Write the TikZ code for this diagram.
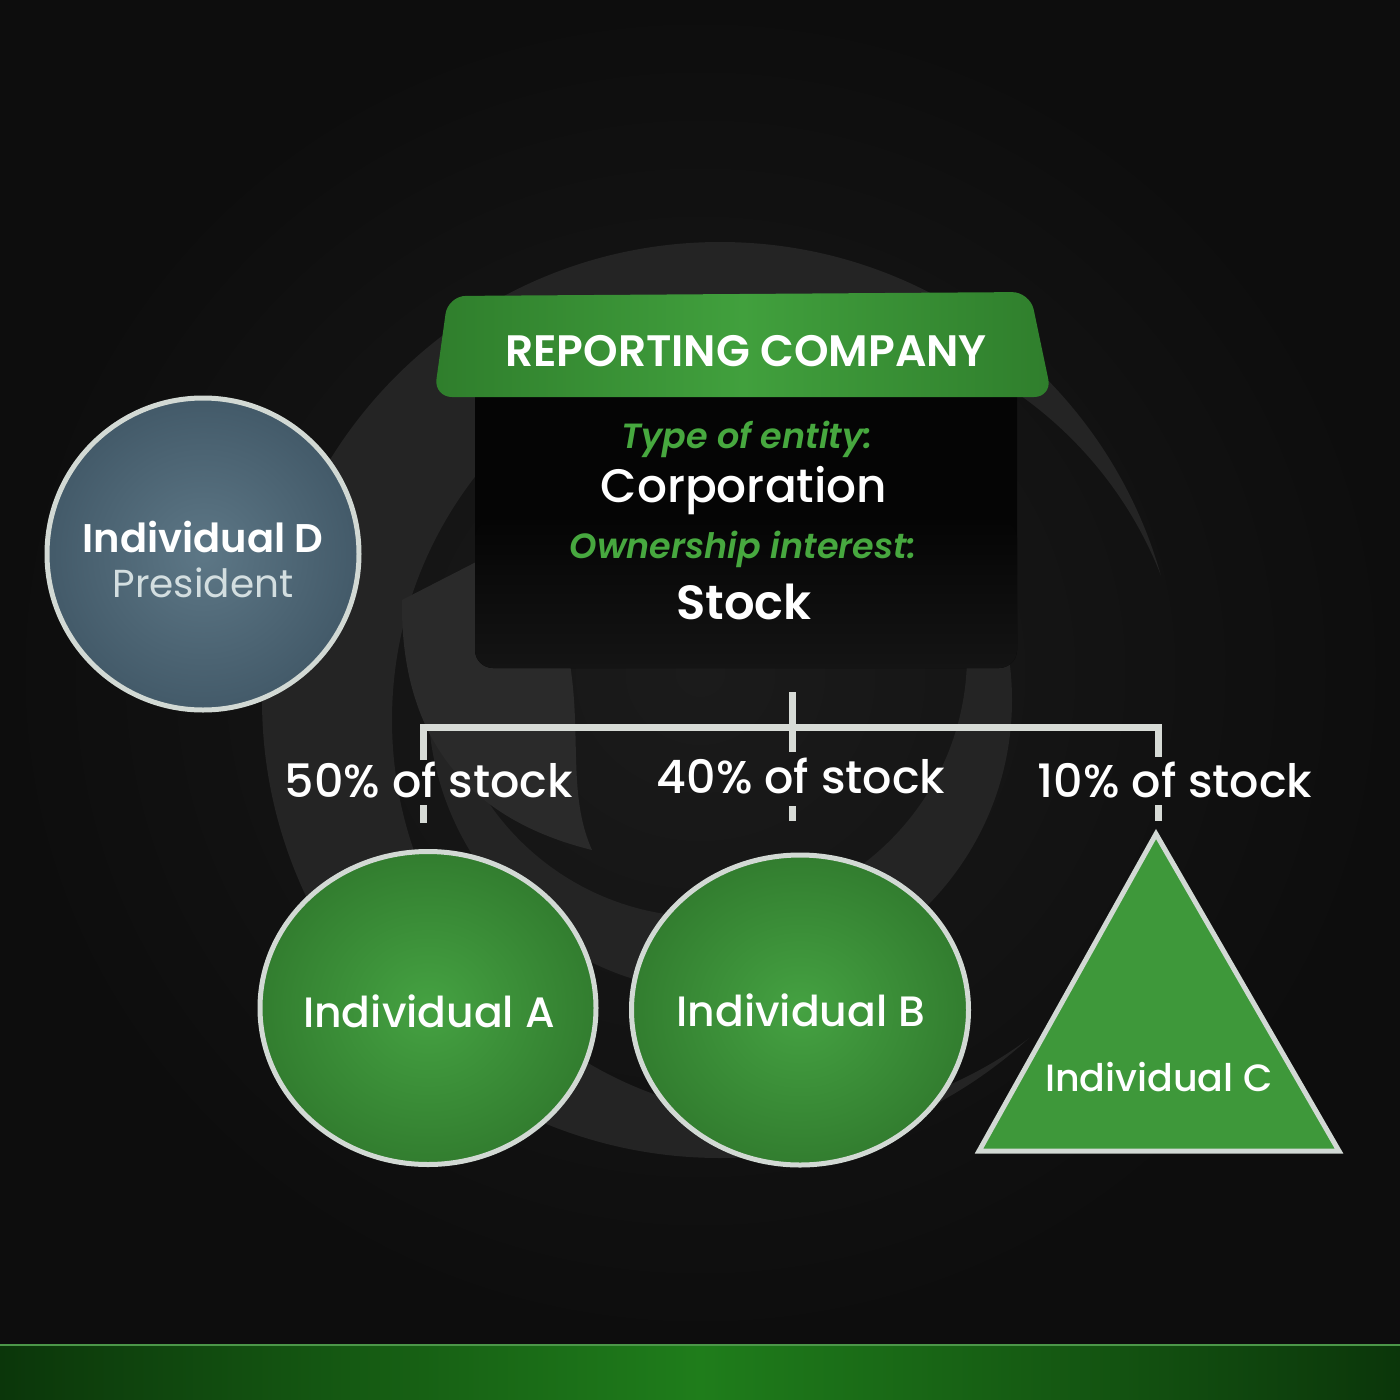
\documentclass[tikz,border=0pt]{standalone}
\usepackage{fontspec}
\setmainfont{Poppins}
\newfontface\pmed{Poppins Medium}
\newfontface\psemi{Poppins SemiBold}
\newfontface\psemiit{Poppins SemiBold Italic}
\usetikzlibrary{shapes.geometric,calc}
\definecolor{bgmid}{HTML}{1B1B1B}
\definecolor{bgedge}{HTML}{0D0D0D}
\definecolor{wm}{HTML}{242424}
\definecolor{wmlight}{HTML}{2A2A2A}
\definecolor{gtab}{HTML}{41A03D}
\definecolor{gtabdark}{HTML}{2F7E2C}
\definecolor{gtext}{HTML}{47A83F}
\definecolor{boxtop}{HTML}{050505}
\definecolor{boxbot}{HTML}{141414}
\definecolor{linecol}{HTML}{D7DBD6}
\definecolor{rimcol}{HTML}{D2D9D4}
\definecolor{dmid}{HTML}{5D7786}
\definecolor{dedge}{HTML}{435A69}
\definecolor{gmid}{HTML}{45A242}
\definecolor{gedge}{HTML}{327D2F}
\definecolor{barmid}{HTML}{1F7D1B}
\definecolor{bardark}{HTML}{0B360A}
\definecolor{presc}{HTML}{D3DEE0}
\tikzset{
  conn/.style={linecol, line width=7pt, line join=miter},
  rim/.style={draw=rimcol, line width=5pt},
  greencirc/.style={ellipse, rim, inner color=gmid, outer color=gedge},
  wtext/.style={text=white, inner sep=0pt},
  gitext/.style={text=gtext, inner sep=0pt, font=\psemiit\fontsize{35}{40}\selectfont},
  stocklbl/.style={text=white, inner sep=0pt, font=\pmed\fontsize{46}{50}\selectfont},
  indlbl/.style={text=white, inner sep=0pt, font=\pmed\fontsize{42.5}{48}\selectfont},
}
\begin{document}
\begin{tikzpicture}[x=1pt,y=-1pt]
\useasboundingbox (0,0) rectangle (1400,1400);
% background
\shade[inner color=bgmid, outer color=bgedge] (0,0) rectangle (1400,1345);
% watermark
\begin{scope}
  \clip (720,700) circle (458);
  \fill[wm, even odd rule] (0,0) rectangle (1400,1400) (790,720) circle (398);
\end{scope}
\begin{scope}
  \clip (720,700) circle (292);
  \fill[wm, even odd rule] (0,0) rectangle (1400,1400) (705,655) circle (262);
\end{scope}
\fill[wmlight] (402,600) .. controls (400,740) and (470,820) .. (592,850)
  .. controls (565,790) and (585,720) .. (565,640) -- (480,560) -- cycle;
% bottom bar
\shade[left color=bardark, right color=bardark, middle color=barmid] (0,1345) rectangle (1400,1400);
\fill[barmid!80!white] (0,1344) rectangle (1400,1346);
% company box
\node (box) [fill=boxtop, rounded corners=18pt, minimum width=542pt, minimum height=290pt, inner sep=0pt] at (746,523) {};
\shade[top color=boxtop, bottom color=boxbot, rounded corners=18pt] (475,520) rectangle (1017,668);
\shade[left color=gtabdark, right color=gtabdark, middle color=gtab, rounded corners=18pt]
  (448,296) -- (1030,292) -- (1052,397) -- (434,397) -- cycle;
\node (tab) [wtext, font=\psemi\fontsize{44}{48}\selectfont] at (746,351) {REPORTING COMPANY};
\node (typ) [gitext] at (747,439) {Type of entity:};
\node (corp) [wtext, font=\pmed\fontsize{47}{52}\selectfont] at (744,491) {Corporation};
\node (own) [gitext] at (743,549) {Ownership interest:};
\node (stk) [wtext, font=\psemi\fontsize{48}{54}\selectfont] at (744,602) {Stock};
% Individual D
\node (D) [circle, rim, minimum size=312pt, inner color=dmid, outer color=dedge, inner sep=0pt] at (203,554) {};
\node (Dn) [wtext, font=\psemi\fontsize{40}{46}\selectfont] at (203,537) {Individual D};
\node (Dp) [text=presc, inner sep=0pt, font=\fontsize{39}{46}\selectfont] at (203,583) {President};
% connectors
\coordinate (hubtop) at (792,692);
\coordinate (hub) at (792,727);
\coordinate (hubbot) at (792,752);
\coordinate (jA) at (423,727);
\coordinate (jC) at (1158,727);
\draw[conn] (hubtop) -- (hubbot);
\draw[conn] (423,760) -- (jA) -- (hub) -- (jC) -- (1158,757);
\node (lA) [stocklbl] at (429,780) {50\% of stock};
\node (lB) [stocklbl] at (801,776) {40\% of stock};
\node (lC) [stocklbl] at (1175,780) {10\% of stock};
% shapes
\node (A) [greencirc, minimum width=336pt, minimum height=313pt, inner sep=0pt] at (428,1008) {};
\node (B) [greencirc, minimum width=337pt, minimum height=310pt, inner sep=0pt] at (800,1010) {};
\coordinate (Ctop) at (1156,834);
\coordinate (Cl) at (979,1151);
\coordinate (Cr) at (1339,1151);
\filldraw[rim, fill=gtab!95!black] (Ctop) -- (Cr) -- (Cl) -- cycle;
\node (An) [indlbl] at (429,1011) {Individual A};
\node (Bn) [indlbl] at (801,1010) {Individual B};
\node (Cn) [text=white, inner sep=0pt, font=\pmed\fontsize{38}{42}\selectfont] at (1159,1077) {Individual C};
\draw[conn] (423,805) -- (423,823);
\draw[conn] (792,806) -- (792,821);
\draw[conn] (1158,805) -- (1158,821);
\end{tikzpicture}
\end{document}
